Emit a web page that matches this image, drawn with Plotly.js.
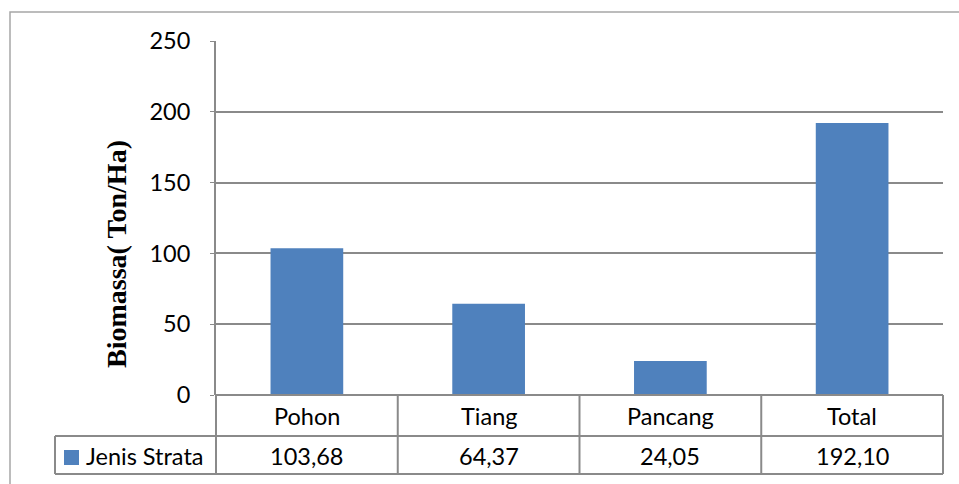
<!DOCTYPE html>
<html>
<head>
<meta charset="utf-8">
<script src="https://cdn.plot.ly/plotly-3.0.1.min.js"></script>
<style>html,body{margin:0;padding:0;background:#fff}#chart{width:959px;height:484px}</style>
</head>
<body>
<div id="chart"></div>
<script>
const categories = ["Pohon", "Tiang", "Pancang", "Total"];
const values = [103.68, 64.37, 24.05, 192.10];
const seriesName = "Jenis Strata";
const yTicks = [0, 50, 100, 150, 200, 250];
const yTitle = "Biomassa( Ton/Ha)";

const W = 959, H = 484;
const L = 216, R = 943, T = 41, B = 395;
const pw = R - L, ph = B - T;
const px = x => (x - L) / pw;
const py = y => (B - y) / ph;

const lineCol = "#8a8a8a";
const font = "Lato, 'Noto Sans', sans-serif";
const fs = 23.5;
const fmt = v => v.toFixed(2).replace('.', ',');

const shapes = [];
const annotations = [];
// outer frame
shapes.push({type:'rect', xref:'paper', yref:'paper', x0:px(10), x1:px(1200), y0:py(700), y1:py(12), line:{color:'#a6a6a6', width:1.5}});
// table lines
const row1 = 436, row2 = 474, legL = 55;
shapes.push({type:'line', xref:'paper', yref:'paper', x0:0, x1:1, y0:0, y1:0, line:{color:lineCol, width:2}});
shapes.push({type:'line', xref:'paper', yref:'paper', x0:px(legL), x1:1, y0:py(row1), y1:py(row1), line:{color:lineCol, width:2}});
shapes.push({type:'line', xref:'paper', yref:'paper', x0:px(legL), x1:1, y0:py(row2), y1:py(row2), line:{color:lineCol, width:2}});
shapes.push({type:'line', xref:'paper', yref:'paper', x0:px(legL), x1:px(legL), y0:py(row1), y1:py(row2), line:{color:lineCol, width:2}});
for (let i = 0; i <= categories.length; i++) {
  const xf = i / categories.length;
  shapes.push({type:'line', xref:'paper', yref:'paper', x0:xf, x1:xf, y0:0, y1:py(row2), line:{color:lineCol, width:2}});
}
// legend key
shapes.push({type:'rect', xref:'paper', yref:'paper', x0:px(64), x1:px(79), y0:py(465), y1:py(450), fillcolor:'#4f81bd', line:{width:0}});
annotations.push({xref:'paper', yref:'paper', x:px(84), y:py(456), xanchor:'left', yanchor:'middle', text:seriesName, showarrow:false, font:{family:font, size:fs, color:'#000'}});
categories.forEach((c, i) => {
  annotations.push({xref:'x', yref:'paper', x:c, y:py(416), xanchor:'center', yanchor:'middle', text:c, showarrow:false, font:{family:font, size:fs, color:'#000'}});
  annotations.push({xref:'x', yref:'paper', x:c, y:py(456), xanchor:'center', yanchor:'middle', text:fmt(values[i]), showarrow:false, font:{family:font, size:fs, color:'#000'}});
});
// y title
annotations.push({xref:'paper', yref:'paper', x:px(117), y:py(254), xanchor:'center', yanchor:'middle', text:'<b>'+yTitle+'</b>', textangle:-90, showarrow:false, font:{family:"'Liberation Serif', 'Times New Roman', serif", size:28, color:'#000'}});

const data = [{
  type:'bar', x:categories, y:values, name:seriesName,
  marker:{color:'#4f81bd'}, hoverinfo:'none'
}];

const layout = {
  width:W, height:H,
  margin:{l:L, r:W-R, t:T, b:H-B, pad:0},
  paper_bgcolor:'#fff', plot_bgcolor:'#fff',
  showlegend:false,
  bargap:0.6,
  xaxis:{type:'category', showticklabels:false, showgrid:false, zeroline:false, showline:false, ticks:'', fixedrange:true},
  yaxis:{range:[0,250], tickvals:yTicks, ticktext:yTicks.map(String), showgrid:true, gridcolor:lineCol, gridwidth:2,
         zeroline:false, showline:true, linecolor:lineCol, linewidth:2, ticks:'outside', ticklen:4, tickcolor:lineCol,
         ticklabelstandoff:15, tickfont:{family:font, size:fs, color:'#000'}, fixedrange:true},
  shapes:shapes, annotations:annotations
};
Plotly.newPlot('chart', data, layout, {staticPlot:true, displayModeBar:false});
</script>
</body>
</html>
